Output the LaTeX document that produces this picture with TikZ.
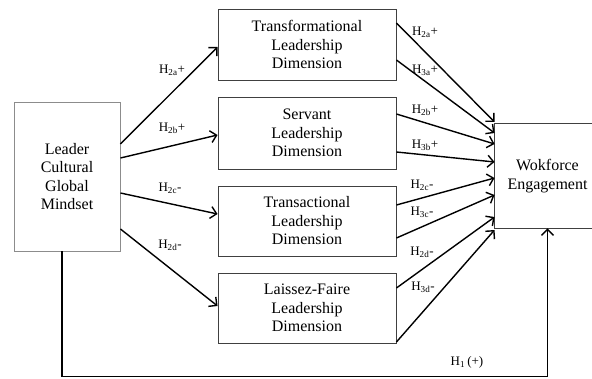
\documentclass[tikz,border=0pt]{standalone}
\usepackage{fontspec}
\setmainfont{Liberation Serif}
\usetikzlibrary{arrows.meta,calc}
\tikzset{
  box/.style={draw=black!75,line width=.9pt,align=center,inner sep=0pt,font=\fontsize{16}{18.5}\selectfont},
  hyp/.style={font=\fontsize{13}{15}\selectfont,inner sep=1pt},
  link/.style={line width=1.4pt,-{Straight Barb[length=6pt,width=12pt]}}
}
\begin{document}
\begin{tikzpicture}[x=1pt,y=1pt]
  \useasboundingbox (0,0) rectangle (592,378);
  \node[box,draw=black!45,minimum width=106pt,minimum height=149pt] (lead) at (67,201.5) {Leader\\Cultural\\Global\\Mindset};
  \foreach \n/\y/\h/\t in {tf/333.5/71/Transformational,sv/245/72/Servant,tr/157/70/Transactional,lf/70/70/Laissez-Faire}
    \node[box,minimum width=178pt,minimum height=\h pt] (\n) at (307,\y) {\t\\Leadership\\Dimension};
  \node[box,draw=none,minimum width=105pt,minimum height=104pt] (eng) at (547.5,202) {Wokforce\\Engagement};
  \draw[line width=.9pt,draw=black!75] (eng.north west) rectangle ($(eng.south east)+(20,0)$);
  % leader mindset -> leadership dimensions
  \foreach \n/\s/\e in {tf/32.5/-2.5,sv/18.5/-2,tr/-16.5/7,lf/-52.5/2}
    \draw[link] ($(lead.east)+(0,\s)$) -- ($(\n.west)+(0,\e)$);
  % leadership dimensions -> engagement
  \foreach \n/\s/\e in {tf/21.5/54,tf/-15.5/43,sv/19/32,sv/-19/14,tr/16/-2,tr/-17/-19,lf/20/-41,lf/-34/-54}
    \draw[link] ($(\n.east)+(0,\s)$) -- ($(eng.west)+(0,\e)$);
  % direct path
  \draw[link] ($(lead.south)+(-5,0)$) -- ++(0,-125) coordinate (corner) -| (eng.south);
  \foreach \x/\y/\t [count=\i] in {172/308/{H\textsubscript{2a}+},172/250/{H\textsubscript{2b}+},170/190/{H\textsubscript{2c}-},170/133/{H\textsubscript{2d}-},
    425/346/{H\textsubscript{2a}+},425/308/{H\textsubscript{3a}+},425/268/{H\textsubscript{2b}+},425/233/{H\textsubscript{3b}+},
    422/193/{H\textsubscript{2c}-},422/166/{H\textsubscript{3c}-},422/126/{H\textsubscript{2d}-},423/91/{H\textsubscript{3d}-}}
    \node[hyp] (h\i) at (\x,\y) {\t};
  \node[hyp] (hone) at (467,16) {H\textsubscript{1}\,(+)};
\end{tikzpicture}
\end{document}
